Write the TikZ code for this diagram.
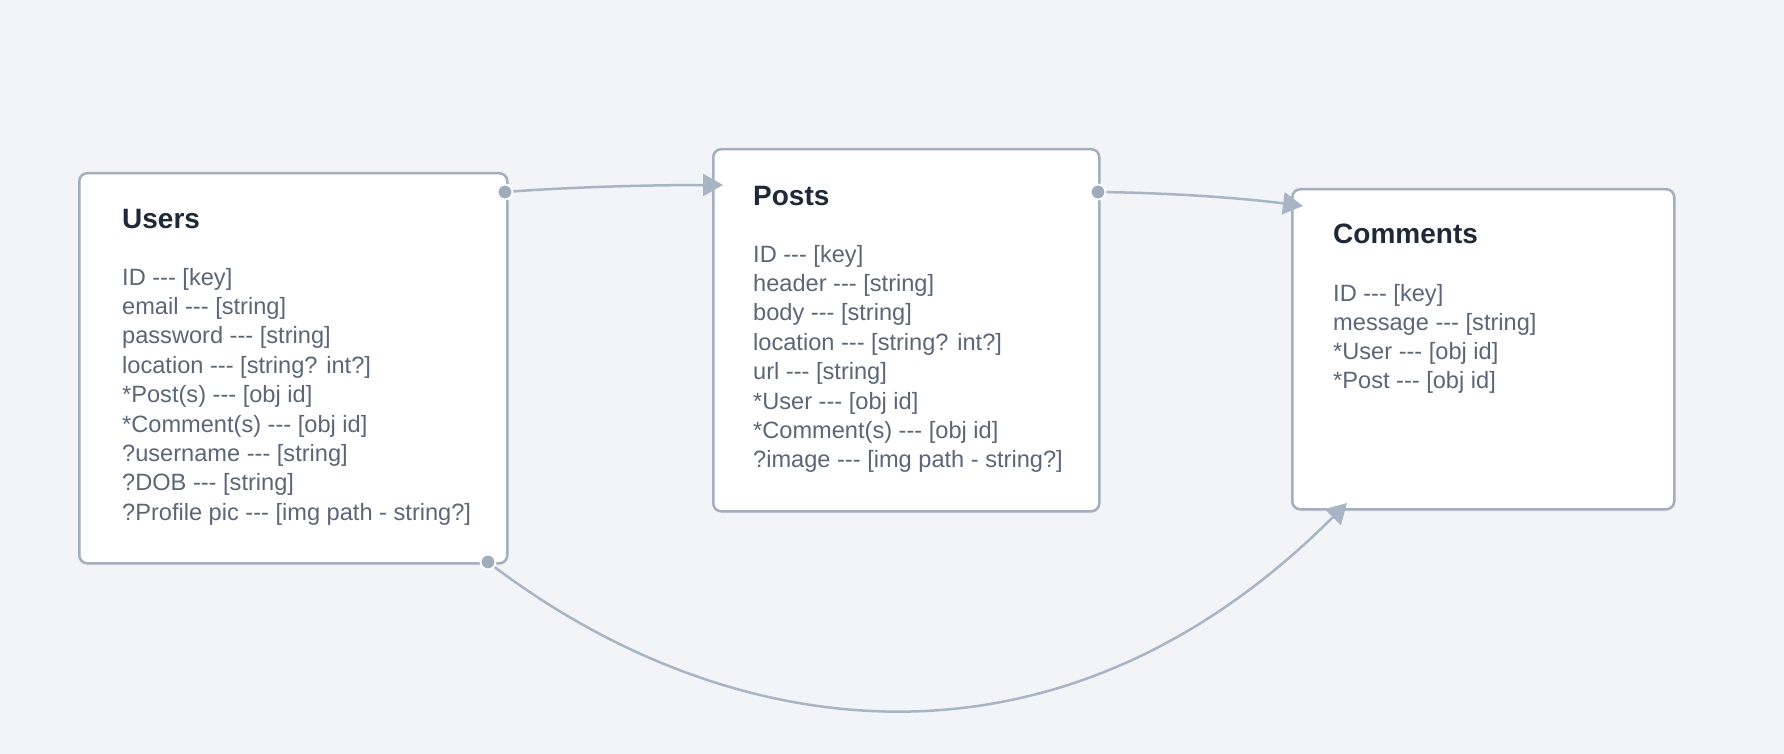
\documentclass[tikz,border=0pt]{standalone}
\usepackage{fontspec}
\setmainfont{Liberation Sans}
\usetikzlibrary{arrows.meta,shadows}
\definecolor{bgc}{HTML}{F2F4F7}
\definecolor{boxc}{HTML}{A4AEBC}
\definecolor{linec}{HTML}{A9B4C4}
\definecolor{dotc}{HTML}{A0ACBC}
\definecolor{titlec}{HTML}{1F2937}
\definecolor{bodyc}{HTML}{5B6677}
\newcommand{\dsh}{-{}-{}-}
\begin{document}
\begin{tikzpicture}[x=1pt,y=-1pt,
  tbl/.style={draw=boxc, line width=2.5pt, fill=white, rounded corners=8pt, anchor=north west, inner sep=0pt,
    drop shadow={opacity=0.08, shadow xshift=0pt, shadow yshift=-2pt}},
  ttl/.style={anchor=base west, inner sep=0pt, text=titlec, font=\fontsize{28}{32}\selectfont\bfseries},
  fld/.style={anchor=base west, inner sep=0pt, text=bodyc, font=\fontsize{23.6}{28}\selectfont},
  conn/.style={draw=linec, line width=2.5pt, -{Triangle[length=20pt,width=22pt]}},
  dotn/.style={circle, fill=dotc, draw=white, line width=2pt, inner sep=0pt, minimum size=15pt}]
\fill[bgc] (0,0) rectangle (1784,754);
\useasboundingbox (0,0) rectangle (1784,754);

% tables
\node[tbl, minimum width=428pt, minimum height=390pt] (users) at (78,172) {};
\node[tbl, minimum width=386pt, minimum height=362pt] (posts) at (712,148) {};
\node[tbl, minimum width=382pt, minimum height=320pt] (comments) at (1291,188) {};

% titles
\node[ttl] (tu) at (122,228) {Users};
\node[ttl] (tp) at (753,205) {Posts};
\node[ttl] (tc) at (1333,243) {Comments};

% fields
\foreach \t [count=\i from 0] in {{ID \dsh{} [key]},{email \dsh{} [string]},{password \dsh{} [string]},
  {location \dsh{} [string? int?]},{*Post(s) \dsh{} [obj id]},{*Comment(s) \dsh{} [obj id]},
  {?username \dsh{} [string]},{?DOB \dsh{} [string]},{?Profile pic \dsh{} [img path - string?]}}
  \node[fld] (uf\i) at (122,285+29.4*\i) {\t};
\foreach \t [count=\i from 0] in {{ID \dsh{} [key]},{header \dsh{} [string]},{body \dsh{} [string]},
  {location \dsh{} [string? int?]},{url \dsh{} [string]},{*User \dsh{} [obj id]},
  {*Comment(s) \dsh{} [obj id]},{?image \dsh{} [img path - string?]}}
  \node[fld] (pf\i) at (753,262+29.4*\i) {\t};
\foreach \t [count=\i from 0] in {{ID \dsh{} [key]},{message \dsh{} [string]},{*User \dsh{} [obj id]},
  {*Post \dsh{} [obj id]}}
  \node[fld] (cf\i) at (1333,301+29.2*\i) {\t};

% connector ends
\coordinate (s1) at (505,192);
\coordinate (s2) at (1098,192);
\coordinate (s3) at (488,562);
\coordinate (e1) at (723,185);
\coordinate (e2) at (1303,206);
\coordinate (e3) at (1347,503);

\draw[conn] (s1) .. controls (570,187) and (650,185) .. (e1);
\draw[conn] (s2) .. controls (1180,193) and (1250,199) .. (e2);
\draw[conn] (s3) .. controls (718,739) and (1051,799) .. (e3);

\node[dotn] (dot1) at (s1) {};
\node[dotn] (dot2) at (s2) {};
\node[dotn] (dot3) at (s3) {};
\end{tikzpicture}
\end{document}
